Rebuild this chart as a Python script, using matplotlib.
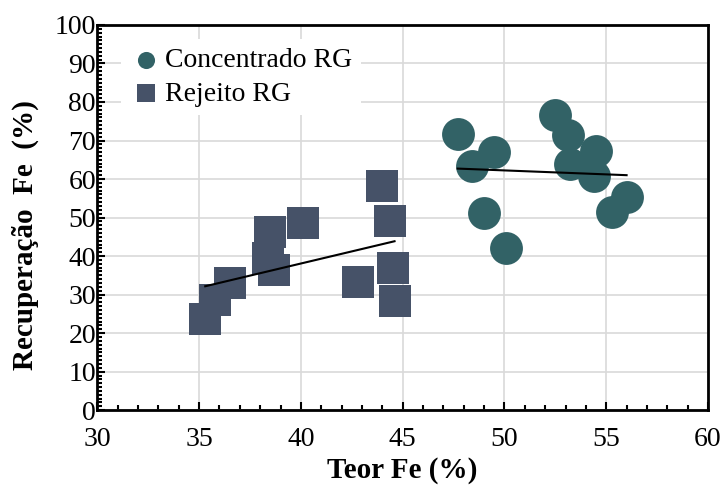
import matplotlib.pyplot as plt
from matplotlib.ticker import MultipleLocator
import numpy as np

plt.rcParams['font.family'] = ['Liberation Serif', 'DejaVu Serif']

# Concentrado RG
teor_conc = [47.7, 48.4, 49.5, 49.0, 50.1, 52.5, 53.1, 54.5, 53.2, 54.4, 56.0, 55.3]
rec_conc = [71.7, 63.4, 66.9, 51.1, 42.0, 76.6, 71.4, 67.3, 63.8, 60.9, 55.4, 51.5]

# Rejeito RG
teor_rej = [35.3, 35.8, 36.5, 38.5, 38.4, 38.7, 40.1, 44.0, 44.4, 42.8, 44.5, 44.6]
rec_rej = [23.6, 28.6, 32.9, 46.3, 39.4, 36.4, 48.5, 58.2, 49.1, 33.2, 36.8, 28.4]

cor_conc = '#326266'
cor_rej = '#465268'

fig, ax = plt.subplots(figsize=(7.21, 4.99), dpi=100)
fig.subplots_adjust(left=0.135, right=0.982, bottom=0.178, top=0.95)

ax.scatter(teor_conc, rec_conc, s=560, marker='o', color=cor_conc,
           linewidths=0, zorder=3, label='Concentrado RG')
ax.scatter(teor_rej, rec_rej, s=560, marker='s', color=cor_rej,
           linewidths=0, zorder=3, label='Rejeito RG')

# linhas de tendencia
for X, Y in [(teor_conc, rec_conc), (teor_rej, rec_rej)]:
    X = np.asarray(X)
    a, b = np.polyfit(X, Y, 1)
    xs = np.array([X.min(), X.max()])
    ax.plot(xs, a * xs + b, color='black', lw=1.5, zorder=4)

ax.set_xlim(30, 60)
ax.set_ylim(0, 100)
ax.xaxis.set_major_locator(MultipleLocator(5))
ax.xaxis.set_minor_locator(MultipleLocator(1))
ax.yaxis.set_major_locator(MultipleLocator(10))
ax.yaxis.set_minor_locator(MultipleLocator(1))
ax.tick_params(which='both', direction='in', top=False, right=False,
               labelsize=20, width=1.5)
ax.tick_params(which='major', length=6)
ax.tick_params(which='minor', length=3.5)
ax.tick_params(axis='x', pad=12)
ax.tick_params(axis='y', pad=1)
ax.grid(True, which='major', color='#d9d9d9', lw=1.2, zorder=0)
ax.set_axisbelow(True)
for sp in ax.spines.values():
    sp.set_linewidth(2)
    sp.set_color('black')

ax.set_xlabel('Teor Fe (%)', fontsize=21, fontweight='bold', labelpad=4)
ax.set_ylabel('Recuperação  Fe  (%)', fontsize=21, fontweight='bold')
ax.yaxis.set_label_coords(-0.095, 0.455)

leg = ax.legend(loc='upper left', bbox_to_anchor=(0.025, 0.985), fontsize=20,
                frameon=True, framealpha=1, edgecolor='white',
                markerscale=0.52, handletextpad=0.1, borderaxespad=0.3,
                labelspacing=0.3, handlelength=1.2, borderpad=0.3)
leg.get_frame().set_linewidth(0)

fig.savefig('out.png', dpi=100)
